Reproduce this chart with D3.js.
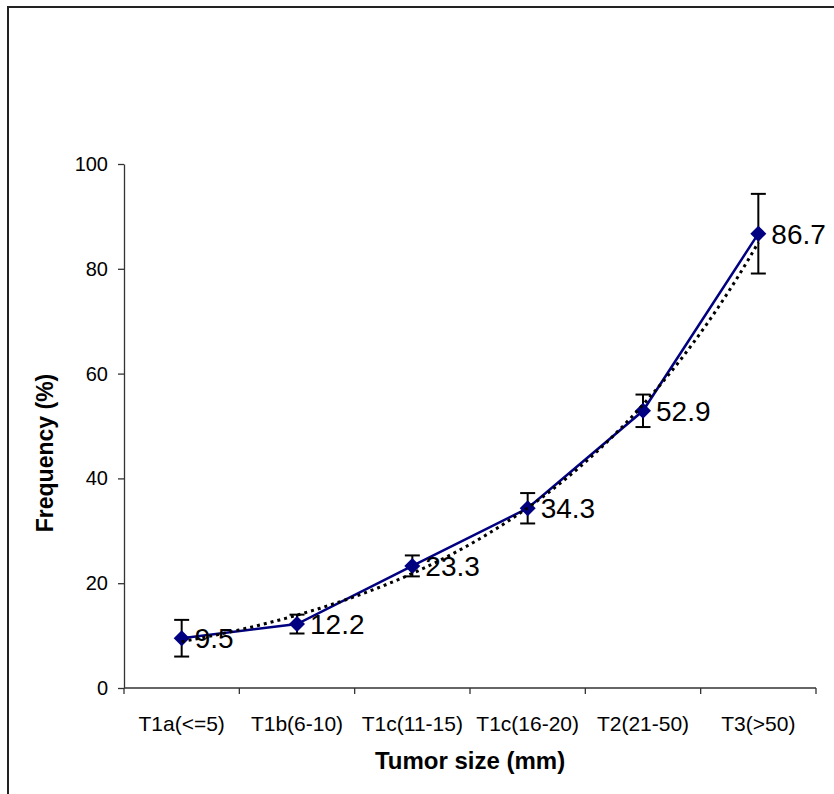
<!DOCTYPE html>
<html>
<head>
<meta charset="utf-8">
<script src="https://cdn.jsdelivr.net/npm/d3@7"></script>
<style>
  html, body { margin: 0; padding: 0; background: #fff; }
  svg { display: block; font-family: Arial, 'Liberation Sans', sans-serif; }
</style>
</head>
<body>
<div id="chart"></div>
<script>
// data
const categories = ['T1a(<=5)', 'T1b(6-10)', 'T1c(11-15)', 'T1c(16-20)', 'T2(21-50)', 'T3(>50)'];
const frequency = [9.5, 12.2, 23.3, 34.3, 52.9, 86.7];
const errors = [3.5, 1.8, 2.0, 2.9, 3.1, 7.6];
const yTicks = [0, 20, 40, 60, 80, 100];

const W = 834, H = 794;
const plot = { left: 124, right: 816, top: 164, bottom: 688 };

const svg = d3.select('#chart').append('svg')
  .attr('width', W)
  .attr('height', H);

// outer frame (runs off the right and bottom edges like the source)
svg.append('rect')
  .attr('x', 8).attr('y', 7)
  .attr('width', W + 20).attr('height', H + 20)
  .attr('fill', 'none')
  .attr('stroke', '#222')
  .attr('stroke-width', 2);

const x = d3.scaleBand().domain(categories).range([plot.left, plot.right]);
const xIdx = d3.scaleLinear().domain([0.5, categories.length + 0.5]).range([plot.left, plot.right]);
const y = d3.scaleLinear().domain([0, 100]).range([plot.bottom, plot.top]);
const cx = d => x(d) + x.bandwidth() / 2;

// y axis
const yAxis = svg.append('g')
  .attr('transform', `translate(${plot.left},0)`)
  .call(d3.axisLeft(y).tickValues(yTicks).tickSize(6).tickSizeOuter(0).tickPadding(10));
yAxis.select('.domain').attr('stroke', '#333').attr('stroke-width', 1.3);
yAxis.selectAll('.tick line').attr('stroke', '#333').attr('stroke-width', 1.3);
yAxis.selectAll('text')
  .style('font-size', '20px')
  .style('font-family', 'Arial, "Liberation Sans", sans-serif')
  .attr('fill', '#000');

// x axis, ticks sit between categories
const xAxis = svg.append('g')
  .attr('transform', `translate(0,${plot.bottom})`)
  .call(d3.axisBottom(x).tickSize(0).tickPadding(28));
xAxis.select('.domain').remove();
xAxis.append('line')
  .attr('x1', plot.left).attr('x2', plot.right)
  .attr('stroke', '#333').attr('stroke-width', 1.3);
xAxis.selectAll('.sep')
  .data(d3.range(categories.length + 1))
  .join('line')
  .attr('class', 'sep')
  .attr('x1', i => xIdx(i + 0.5)).attr('x2', i => xIdx(i + 0.5))
  .attr('y1', 0).attr('y2', 6)
  .attr('stroke', '#333').attr('stroke-width', 1.3);
xAxis.selectAll('text')
  .style('font-size', '21px')
  .style('font-family', 'Arial, "Liberation Sans", sans-serif')
  .attr('fill', '#000');

// axis titles
svg.append('text')
  .attr('x', (plot.left + plot.right) / 2)
  .attr('y', 769)
  .attr('text-anchor', 'middle')
  .style('font-size', '24px')
  .style('font-weight', 'bold')
  .text('Tumor size (mm)');

svg.append('text')
  .attr('transform', 'translate(53,453) rotate(-90)')
  .attr('text-anchor', 'middle')
  .style('font-size', '23px')
  .style('font-weight', 'bold')
  .text('Frequency (%)');

const pts = categories.map((c, i) => ({ c, v: frequency[i], e: errors[i] }));

// series line
svg.append('path')
  .datum(pts)
  .attr('fill', 'none')
  .attr('stroke', '#000080')
  .attr('stroke-width', 2.5)
  .attr('d', d3.line().x(d => cx(d.c)).y(d => y(d.v)));

// error bars
const eb = svg.append('g').attr('stroke', '#000').attr('stroke-width', 2);
eb.selectAll('.ev').data(pts).join('line')
  .attr('x1', d => cx(d.c)).attr('x2', d => cx(d.c))
  .attr('y1', d => y(d.v - d.e)).attr('y2', d => y(d.v + d.e));
eb.selectAll('.et').data(pts).join('line')
  .attr('x1', d => cx(d.c) - 7.5).attr('x2', d => cx(d.c) + 7.5)
  .attr('y1', d => y(d.v + d.e)).attr('y2', d => y(d.v + d.e));
eb.selectAll('.eb').data(pts).join('line')
  .attr('x1', d => cx(d.c) - 7.5).attr('x2', d => cx(d.c) + 7.5)
  .attr('y1', d => y(d.v - d.e)).attr('y2', d => y(d.v - d.e));

// diamond markers
svg.selectAll('.mk').data(pts).join('path')
  .attr('transform', d => `translate(${cx(d.c)},${y(d.v)})`)
  .attr('d', 'M0,-8L8,0L0,8L-8,0Z')
  .attr('fill', '#000080');

// exponential trendline fitted on the series (least squares on log values)
const n = frequency.length;
const xs = d3.range(1, n + 1);
const ls = frequency.map(v => Math.log(v));
const mx = d3.mean(xs), ml = d3.mean(ls);
const b = d3.sum(xs, (xi, i) => (xi - mx) * (ls[i] - ml)) / d3.sum(xs, xi => (xi - mx) ** 2);
const a = Math.exp(ml - b * mx);
const trend = d3.range(1, n + 0.001, 0.05).map(t => [t, a * Math.exp(b * t)]);

svg.append('path')
  .datum(trend)
  .attr('fill', 'none')
  .attr('stroke', '#000')
  .attr('stroke-width', 3)
  .attr('stroke-dasharray', '3,4')
  .attr('d', d3.line().x(d => xIdx(d[0])).y(d => y(d[1])));

// value labels
svg.selectAll('.lbl').data(pts).join('text')
  .attr('x', d => cx(d.c) + 13)
  .attr('y', d => y(d.v))
  .attr('dy', '0.36em')
  .style('font-size', '28px')
  .attr('fill', '#000')
  .text(d => d.v.toFixed(1));
</script>
</body>
</html>
